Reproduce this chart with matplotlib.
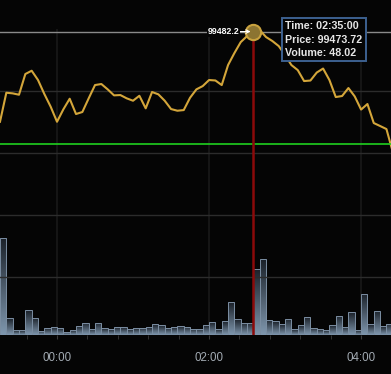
import numpy as np
import pandas as pd
import matplotlib
matplotlib.use("Agg")
import matplotlib.pyplot as plt
import matplotlib.dates as mdates
from matplotlib.colors import LinearSegmentedColormap

plt.rcParams["font.family"] = ["Liberation Sans", "DejaVu Sans"]

# 5-minute series, 23:15 -> 04:25
times = pd.date_range("2024-12-31 23:15", periods=63, freq="5min")
prices = [
    99333.9, 99378.9, 99377.9, 99375.8, 99407.9, 99413.0, 99398.6, 99376.9,
    99357.2, 99333.9, 99353.1, 99369.6, 99345.9, 99349.0, 99370.2, 99390.8,
    99392.4, 99384.1, 99374.8, 99375.3, 99370.2, 99366.5, 99374.2, 99354.7,
    99380.0, 99376.4, 99366.5, 99353.6, 99351.0, 99352.0, 99371.1, 99384.1,
    99389.2, 99398.6, 99397.9, 99390.8, 99421.8, 99440.4, 99457.4, 99466.7,
    99473.72, 99476.0, 99465.2, 99459.0, 99451.2, 99437.3, 99421.8, 99414.0,
    99397.0, 99397.8, 99410.2, 99416.4, 99398.6, 99372.2, 99373.8, 99386.2,
    99373.1, 99352.8, 99361.4, 99331.9, 99327.3, 99322.6, 99287.0,
]
volumes = [
    70.3, 12.1, 3.6, 3.6, 17.9, 12.5, 2.9, 4.9, 5.6, 4.9, 2.2, 3.4, 6.5,
    8.9, 4.6, 8.9, 4.9, 4.1, 5.6, 5.6, 4.0, 4.9, 5.2, 5.6, 7.8, 7.0, 5.2,
    5.6, 6.5, 5.8, 4.7, 4.7, 7.1, 9.2, 4.3, 10.0, 23.8, 11.4, 8.9, 8.9,
    48.02, 54.8, 10.9, 10.1, 7.8, 11.8, 4.1, 7.2, 12.8, 5.1, 4.1, 3.4, 7.0,
    13.8, 5.8, 16.4, 3.6, 29.9, 7.8, 17.4, 6.3, 8.2,
]
ref_price = 99300.0
hover_idx = 40
hover_label = "99482.2"
tooltip_lines = ["Time: 02:35:00", "Price: 99473.72", "Volume: 48.02"]

bar_times = times[:len(volumes)]
hover_t = times[hover_idx]
hover_p = prices[hover_idx]

fig = plt.figure(figsize=(3.91, 3.74), dpi=100, facecolor="#050505")
ax = fig.add_axes([0, 39 / 374, 1, 306 / 374])
ax.set_facecolor("#050505")
pax = ax.twinx()

# volume bars with vertical gradient
bars = ax.bar(bar_times, volumes, width=pd.Timedelta(minutes=5), align="edge",
              color="none", edgecolor="#7b8ea2", linewidth=0.7, zorder=2)
cmap = LinearSegmentedColormap.from_list("vol", ["#7f97ae", "#1a2028"])
grad = np.linspace(0, 1, 128).reshape(-1, 1)
for b in bars:
    x0, w, h = b.get_x(), b.get_width(), b.get_height()
    im = ax.imshow(grad, extent=[x0, x0 + w, 0, h], origin="lower", cmap=cmap,
                   aspect="auto", zorder=1)
    im.set_clip_path(b)

# price line and overlays
pax.plot(times, prices, color="#d4a63a", lw=1.5, zorder=3, clip_on=False)
pax.axhline(ref_price, color="#1fd01f", lw=1.2, zorder=3)
pax.axhline(hover_p, color="#8a8a8a", lw=1, zorder=2.5)
pax.vlines(hover_t, 99003.3, hover_p, color="#8b0a0a", lw=1.8, zorder=4)
pax.plot(hover_t, hover_p, "o", ms=11, mfc="#8c7431", mec="#c9a23e", mew=1.5,
         zorder=5, clip_on=False)
pax.annotate(hover_label, xy=(hover_t, hover_p), xytext=(-14, 0),
             textcoords="offset pixels", ha="right", va="center",
             fontsize=6.3, fontweight="bold", color="white",
             bbox=dict(boxstyle="square,pad=0.1", fc="#050505", ec="none"),
             arrowprops=dict(arrowstyle="->", color="white", lw=0.8,
                             shrinkA=0, shrinkB=2),
             zorder=6, annotation_clip=False)
pax.annotate("\n".join(tooltip_lines), xy=(hover_t, hover_p), xytext=(32, -8),
             textcoords="offset pixels", ha="left", va="center",
             fontsize=7.7, fontweight="bold", color="#e6e6e6", linespacing=1.45,
             bbox=dict(boxstyle="square,pad=0.3", fc="#050505", ec="#3d6190", lw=1.4),
             zorder=7, annotation_clip=False)

# limits and grid
ax.set_xlim(times[0], pd.Timestamp("2025-01-01 04:23:36"))
ax.set_ylim(0, 306 / 1.381)
pax.set_ylim(99003.3, 99477.7)
pax.set_yticks(np.arange(99093.2, 99400, 96.1))
pax.grid(axis="y", color="#2c2c2c", lw=1)
pax.set_axisbelow(True)
pax.tick_params(axis="y", length=0, labelright=False)
ax.set_yticks([])

ax.xaxis.set_major_locator(mdates.HourLocator(byhour=[0, 2, 4]))
ax.xaxis.set_major_formatter(mdates.DateFormatter("%H:%M"))
ax.set_xticks(pd.date_range("2024-12-31 23:36", "2025-01-01 04:00", freq="24min"), minor=True)
ax.grid(axis="x", which="major", color="#151515", lw=1.5, zorder=0)
ax.set_axisbelow(True)
ax.tick_params(axis="x", which="both", length=3, color="#3a3a3a", pad=9,
               labelsize=8.3, labelcolor="#a3abb3")
for a in (ax, pax):
    for s in a.spines.values():
        s.set_visible(False)

fig.savefig("out.png", dpi=100, facecolor=fig.get_facecolor())
